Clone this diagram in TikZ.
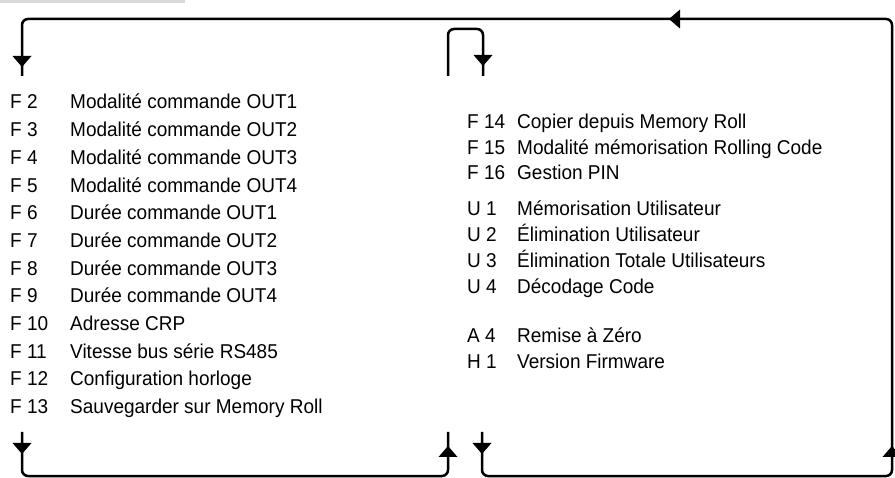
\documentclass[tikz,border=0pt]{standalone}
\usepackage{fontspec}
\setmainfont{Liberation Sans}
\newfontfamily\cond[FakeStretch=0.95]{Liberation Sans}
\begin{document}
\begin{tikzpicture}[x=1pt,y=-1pt,
  flow/.style={line width=2.5pt,rounded corners=6pt,line cap=butt},
  tri/.style={fill=black},
  lbl/.style={anchor=base west,inner sep=0pt,font=\cond\fontsize{20}{24}\selectfont},
  desc/.style={anchor=base west,inner sep=0pt,font=\cond\fontsize{20}{24}\selectfont}]
\useasboundingbox (0,0) rectangle (895,478);
\fill[gray!30] (0,0) rectangle (185,3);
% corner coordinates
\coordinate (a1) at (22,432);
\coordinate (a2) at (22,476);
\coordinate (a3) at (448,476);
\coordinate (a4) at (448,432);
\coordinate (b1) at (482,432);
\coordinate (b2) at (482,476);
\coordinate (b3) at (892,476);
\coordinate (b4) at (892,19);
\coordinate (b5) at (22,19);
\coordinate (b6) at (22,76);
\coordinate (c1) at (448,76);
\coordinate (c2) at (448,29);
\coordinate (c3) at (483,29);
\coordinate (c4) at (483,76);
\draw[flow] (a1) -- (a2) -- (a3) -- (a4);
\draw[flow] (b1) -- (b2) -- (b3) -- (b4) -- (b5) -- (b6);
\draw[flow] (c1) -- (c2) -- (c3) -- (c4);
% arrowheads
\fill[tri] (12.5,56) -- (31.5,56) -- (22,67) -- cycle;
\fill[tri] (473.5,55) -- (492.5,55) -- (483,66) -- cycle;
\fill[tri] (680,9.5) -- (680,28.5) -- (669,19) -- cycle;
\fill[tri] (12.5,443) -- (31.5,443) -- (22,454) -- cycle;
\fill[tri] (438.5,457) -- (457.5,457) -- (448,446) -- cycle;
\fill[tri] (472.5,443) -- (491.5,443) -- (482,454) -- cycle;
\fill[tri] (882.5,457) -- (901.5,457) -- (892,446) -- cycle;
% left column
\foreach \k/\l/\d [count=\i from 0] in {
  2/F 2/Modalité commande OUT1,
  3/F 3/Modalité commande OUT2,
  4/F 4/Modalité commande OUT3,
  5/F 5/Modalité commande OUT4,
  6/F 6/Durée commande OUT1,
  7/F 7/Durée commande OUT2,
  8/F 8/Durée commande OUT3,
  9/F 9/Durée commande OUT4,
  10/F 10/Adresse CRP,
  11/F 11/Vitesse bus série RS485,
  12/F 12/Configuration horloge,
  13/F 13/Sauvegarder sur Memory Roll}{
  \node[lbl] (lf\k) at (10,109+27.7*\i) {\l};
  \node[desc] (df\k) at (70,109+27.7*\i) {\d};
}
% right column
\foreach \n/\y/\l/\d in {
  f14/129/F 14/Copier depuis Memory Roll,
  f15/155/F 15/Modalité mémorisation Rolling Code,
  f16/180/F 16/Gestion PIN,
  u1/216/U 1/Mémorisation Utilisateur,
  u2/242/U 2/Élimination Utilisateur,
  u3/268/U 3/Élimination Totale Utilisateurs,
  u4/294/U 4/Décodage Code,
  a4/343/A 4/Remise à Zéro,
  h1/369/H 1/Version Firmware}{
  \node[lbl] (l\n) at (467,\y) {\l};
  \node[desc] (d\n) at (517,\y) {\d};
}
\end{tikzpicture}
\end{document}
